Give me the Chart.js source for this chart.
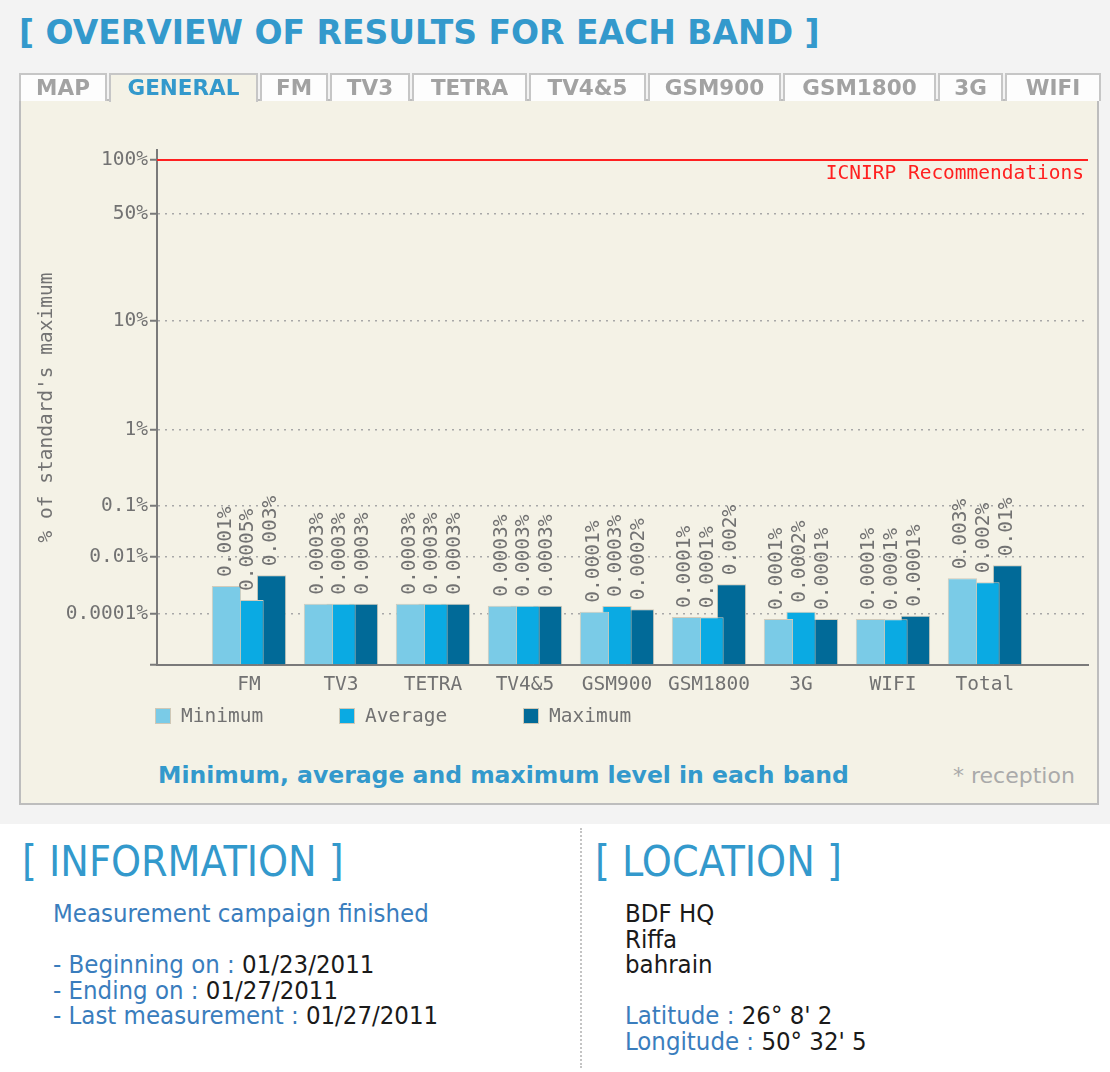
<!DOCTYPE html>
<html>
<head>
<meta charset="utf-8">
<script src="https://cdn.jsdelivr.net/npm/chart.js@4.4.1/dist/chart.umd.min.js"></script>
<style>
  body { margin: 0; width: 1110px; height: 1072px; background: #fff; position: relative; overflow: hidden; font-family: "DejaVu Sans", Verdana, sans-serif; }
  .top { position: absolute; left: 0; top: 0; width: 1110px; height: 824px; background: #f3f3f3; }
  h1 { position: absolute; left: 19px; top: 13px; margin: 0; font: bold 33px "DejaVu Sans", sans-serif; color: #3399cc; white-space: nowrap; }
  .tabs { position: absolute; left: 19px; top: 73px; display: flex; gap: 2px; z-index: 2; }
  .tab { box-sizing: border-box; height: 28px; background: #fdfdfd; border: 2px solid #c6c6c6; border-bottom: none; font: bold 21.5px "DejaVu Sans", sans-serif; color: #a2a2a2; text-align: center; line-height: 25px; }
  .tab.on { color: #3399cc; background: #f4f2e6; height: 29px; }
  .panel { position: absolute; left: 19px; top: 99px; width: 1080px; height: 706px; box-sizing: border-box; background: #f4f2e6; border: 2px solid #bdbdbd; }
  #chart { position: absolute; left: 21px; top: 101px; }
  .caption { position: absolute; left: 158px; top: 761px; font: bold 23.5px "DejaVu Sans", sans-serif; color: #3399cc; white-space: nowrap; }
  .note { position: absolute; left: 953px; top: 763px; font: 22px "DejaVu Sans", sans-serif; color: #aaa; white-space: nowrap; }
  .sep { position: absolute; left: 580px; top: 828px; height: 240px; border-left: 2px dotted #c4c4c4; }
  .cond { font-family: "DejaVu Sans Condensed", "DejaVu Sans", sans-serif; font-stretch: condensed; }
  h2 { position: absolute; margin: 0; top: 837px; font-size: 42.5px; font-weight: normal; color: #3399cc; white-space: nowrap; }
  .info { position: absolute; top: 901px; font-size: 25.5px; line-height: 25.6px; color: #3a7dbd; white-space: nowrap; }
  .info b { font-weight: normal; color: #1a1a1a; }
</style>
</head>
<body>
<div class="top"></div>
<h1>[ OVERVIEW OF RESULTS FOR EACH BAND ]</h1>
<div class="tabs">
  <div class="tab" style="width:88px">MAP</div>
  <div class="tab on" style="width:149px">GENERAL</div>
  <div class="tab" style="width:68px">FM</div>
  <div class="tab" style="width:80px">TV3</div>
  <div class="tab" style="width:115px">TETRA</div>
  <div class="tab" style="width:117px">TV4&amp;5</div>
  <div class="tab" style="width:133px">GSM900</div>
  <div class="tab" style="width:153px">GSM1800</div>
  <div class="tab" style="width:65px">3G</div>
  <div class="tab" style="width:96px">WIFI</div>
</div>
<div class="panel"></div>
<canvas id="chart" width="1070" height="640"></canvas>
<div class="caption">Minimum, average and maximum level in each band</div>
<div class="note">* reception</div>

<div class="sep"></div>
<h2 class="cond" style="left:22px">[ INFORMATION ]</h2>
<h2 class="cond" style="left:595px">[ LOCATION ]</h2>
<div class="info cond" style="left:53px">
  Measurement campaign finished<br><br>
  - Beginning on : <b>01/23/2011</b><br>
  - Ending on : <b>01/27/2011</b><br>
  - Last measurement : <b>01/27/2011</b>
</div>
<div class="info cond" style="left:625px">
  <b>BDF HQ</b><br>
  <b>Riffa</b><br>
  <b>bahrain</b><br><br>
  Latitude : <b>26° 8' 2</b><br>
  Longitude : <b>50° 32' 5</b>
</div>

<script>
// --- Data (percent of the standard's maximum) ---
const bands = ["FM", "TV3", "TETRA", "TV4&5", "GSM900", "GSM1800", "3G", "WIFI", "Total"];
const minLevels = [0.00096, 0.00023, 0.00023, 0.000195, 0.00012, 0.000076, 0.000064, 0.000064, 0.0018];
const avgLevels = [0.00031, 0.00023, 0.00023, 0.000195, 0.00019, 0.000074, 0.00012, 0.000062, 0.0013];
const maxLevels = [0.0023, 0.00023, 0.00023, 0.000195, 0.000146, 0.0011, 0.000064, 0.000086, 0.0051];
// printed labels above the bars, as shown on the chart
const minTexts = ["0.001%", "0.0003%", "0.0003%", "0.0003%", "0.0001%", "0.0001%", "0.0001%", "0.0001%", "0.003%"];
const avgTexts = ["0.0005%", "0.0003%", "0.0003%", "0.0003%", "0.0003%", "0.0001%", "0.0002%", "0.0001%", "0.002%"];
const maxTexts = ["0.003%", "0.0003%", "0.0003%", "0.0003%", "0.0002%", "0.002%", "0.0001%", "0.0001%", "0.01%"];
const tickValues = [100, 50, 10, 1, 0.1, 0.01, 0.0001];
const tickLabels = ["100%", "50%", "10%", "1%", "0.1%", "0.01%", "0.0001%"];
const limitValue = 100;
const limitText = "ICNIRP Recommendations";

// --- Axis mapping ---
// the source axis is not a plain log scale, every gridline has its own height
const axisStops = [[0.000001, 0], [0.0001, 51], [0.01, 108], [0.1, 159], [1, 235], [10, 344], [50, 451], [100, 505]];
const axisTop = 515;
const toAxis = v => {
  const lv = Math.log10(v);
  for (let i = 1; i < axisStops.length; i++) {
    const [v0, h0] = axisStops[i - 1];
    const [v1, h1] = axisStops[i];
    if (v <= v1 || i === axisStops.length - 1) {
      const t = (lv - Math.log10(v0)) / (Math.log10(v1) - Math.log10(v0));
      return Math.max(0, h0 + t * (h1 - h0));
    }
  }
};

const mono = '"DejaVu Sans Mono", monospace';
const monoSize = 19.5;
const grey = "#727272";

const series = [
  { label: "Minimum", values: minLevels, texts: minTexts, color: "#7acbe7" },
  { label: "Average", values: avgLevels, texts: avgTexts, color: "#0aaae3" },
  { label: "Maximum", values: maxLevels, texts: maxTexts, color: "#016a98" },
];

// --- Plugins ---
const barLabels = {
  id: "barLabels",
  afterDatasetsDraw(chart) {
    const ctx = chart.ctx;
    ctx.save();
    ctx.font = `${monoSize}px ${mono}`;
    ctx.fillStyle = grey;
    ctx.textAlign = "left";
    ctx.textBaseline = "middle";
    series.forEach((s, d) => {
      chart.getDatasetMeta(d).data.forEach((bar, i) => {
        ctx.save();
        ctx.translate(bar.x - 1, bar.y - 9);
        ctx.rotate(-Math.PI / 2);
        ctx.fillText(s.texts[i], 0, 0);
        ctx.restore();
      });
    });
    ctx.restore();
  }
};

const limitLine = {
  id: "limitLine",
  afterDatasetsDraw(chart) {
    const { ctx, chartArea, scales } = chart;
    const y = scales.y.getPixelForValue(toAxis(limitValue));
    ctx.save();
    ctx.strokeStyle = "#ff2020";
    ctx.lineWidth = 2;
    ctx.beginPath();
    ctx.moveTo(chartArea.left, y);
    ctx.lineTo(chartArea.right, y);
    ctx.stroke();
    ctx.fillStyle = "#ff2020";
    ctx.font = `${monoSize}px ${mono}`;
    ctx.textAlign = "right";
    ctx.textBaseline = "middle";
    ctx.fillText(limitText, chartArea.right - 4, y + 14);
    ctx.restore();
  }
};

const bandLegend = {
  id: "bandLegend",
  afterDraw(chart) {
    const { ctx, chartArea } = chart;
    const top = chartArea.bottom + 43;
    ctx.save();
    ctx.font = `${monoSize}px ${mono}`;
    ctx.textAlign = "left";
    ctx.textBaseline = "middle";
    chart.data.datasets.forEach((ds, d) => {
      const x = chartArea.left - 2 + d * 184;
      ctx.fillStyle = ds.backgroundColor;
      ctx.fillRect(x, top, 16, 16);
      ctx.strokeStyle = "#cfc8b6";
      ctx.lineWidth = 1;
      ctx.strokeRect(x + 0.5, top + 0.5, 15, 15);
      ctx.fillStyle = grey;
      ctx.fillText(ds.label, x + 26, top + 9);
    });
    ctx.restore();
  }
};

// --- Chart ---
new Chart(document.getElementById("chart"), {
  type: "bar",
  data: {
    datasets: series.map(s => ({
      label: s.label,
      data: s.values.map((v, i) => ({ x: i + 1, y: toAxis(v) })),
      backgroundColor: s.color,
      borderColor: "#d2cbba",
      borderWidth: 1,
      categoryPercentage: 0.735,
      barPercentage: 1.3,
    }))
  },
  options: {
    responsive: false,
    animation: false,
    layout: { padding: { top: 49, right: 3, left: 0, bottom: 0 } },
    plugins: { legend: { display: false }, tooltip: { enabled: false } },
    scales: {
      x: {
        type: "linear",
        offset: false,
        min: 0,
        max: 10.12,
        afterBuildTicks: s => { s.ticks = bands.map((b, i) => ({ value: i + 1 })); },
        afterFit: s => { s.height = 76; },
        ticks: { callback: (v, i) => bands[i], font: { family: mono, size: monoSize }, color: grey, padding: 8, autoSkip: false, maxRotation: 0 },
        grid: { display: false, drawTicks: false, offset: false },
        border: { color: "#7a7a7a", width: 2 }
      },
      y: {
        min: 0,
        max: axisTop,
        afterFit: s => { s.width = 136; },
        afterBuildTicks: s => { s.ticks = [{ value: 0 }].concat(tickValues.map(v => ({ value: toAxis(v) }))); },
        ticks: { callback: (v, i) => (i === 0 ? "" : tickLabels[i - 1]), font: { family: mono, size: monoSize }, color: grey, padding: 2, autoSkip: false },
        grid: {
          color: c => (c.index === 0 ? "rgba(0,0,0,0)" : "#a8a8a8"),
          tickColor: "#7a7a7a",
          tickLength: 7,
          tickWidth: 2,
          lineWidth: 1.5
        },
        border: { color: "#7a7a7a", width: 2, dash: [2, 5] },
        title: { display: true, text: "% of standard's maximum", font: { family: mono, size: monoSize }, color: grey, padding: { top: 14 } }
      }
    }
  },
  plugins: [barLabels, limitLine, bandLegend]
});
</script>
</body>
</html>
